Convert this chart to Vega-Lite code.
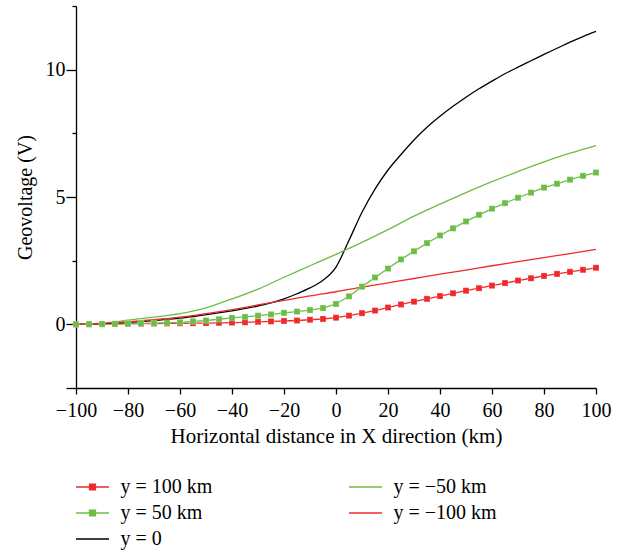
{
  "$schema": "https://vega.github.io/schema/vega-lite/v6.json",
  "width": 520,
  "height": 382,
  "autosize": {"type": "none"},
  "padding": {"left": 76, "top": 6, "right": 26, "bottom": 164},
  "background": "white",
  "config": {
    "font": "Liberation Serif",
    "view": {"stroke": null},
    "axis": {"grid": false, "domainColor": "black", "tickColor": "black", "labelColor": "black", "titleColor": "black", "labelFontSize": 20, "titleFontSize": 20, "titleFontWeight": "normal", "domainWidth": 1.3, "tickWidth": 1.3},
    "legend": {"labelFontSize": 20, "labelColor": "black"}
  },
  "data": {"values": [
    {"s": "y = 100 km", "x": -100, "v": 0.0}, {"s": "y = 100 km", "x": -95, "v": 0.005}, {"s": "y = 100 km", "x": -90, "v": 0.01}, {"s": "y = 100 km", "x": -85, "v": 0.015}, {"s": "y = 100 km", "x": -80, "v": 0.02}, {"s": "y = 100 km", "x": -75, "v": 0.025}, {"s": "y = 100 km", "x": -70, "v": 0.03}, {"s": "y = 100 km", "x": -65, "v": 0.035}, {"s": "y = 100 km", "x": -60, "v": 0.04}, {"s": "y = 100 km", "x": -55, "v": 0.045}, {"s": "y = 100 km", "x": -50, "v": 0.05}, {"s": "y = 100 km", "x": -45, "v": 0.06}, {"s": "y = 100 km", "x": -40, "v": 0.07}, {"s": "y = 100 km", "x": -35, "v": 0.08}, {"s": "y = 100 km", "x": -30, "v": 0.1}, {"s": "y = 100 km", "x": -25, "v": 0.115}, {"s": "y = 100 km", "x": -20, "v": 0.13}, {"s": "y = 100 km", "x": -15, "v": 0.15}, {"s": "y = 100 km", "x": -10, "v": 0.18}, {"s": "y = 100 km", "x": -5, "v": 0.21}, {"s": "y = 100 km", "x": 0, "v": 0.26}, {"s": "y = 100 km", "x": 5, "v": 0.34}, {"s": "y = 100 km", "x": 10, "v": 0.44}, {"s": "y = 100 km", "x": 15, "v": 0.54}, {"s": "y = 100 km", "x": 20, "v": 0.66}, {"s": "y = 100 km", "x": 25, "v": 0.78}, {"s": "y = 100 km", "x": 30, "v": 0.89}, {"s": "y = 100 km", "x": 35, "v": 1.0}, {"s": "y = 100 km", "x": 40, "v": 1.11}, {"s": "y = 100 km", "x": 45, "v": 1.22}, {"s": "y = 100 km", "x": 50, "v": 1.32}, {"s": "y = 100 km", "x": 55, "v": 1.42}, {"s": "y = 100 km", "x": 60, "v": 1.52}, {"s": "y = 100 km", "x": 65, "v": 1.62}, {"s": "y = 100 km", "x": 70, "v": 1.72}, {"s": "y = 100 km", "x": 75, "v": 1.81}, {"s": "y = 100 km", "x": 80, "v": 1.9}, {"s": "y = 100 km", "x": 85, "v": 1.98}, {"s": "y = 100 km", "x": 90, "v": 2.06}, {"s": "y = 100 km", "x": 95, "v": 2.14}, {"s": "y = 100 km", "x": 100, "v": 2.22},
    {"s": "y = 50 km", "x": -100, "v": 0.0}, {"s": "y = 50 km", "x": -95, "v": 0.005}, {"s": "y = 50 km", "x": -90, "v": 0.01}, {"s": "y = 50 km", "x": -85, "v": 0.02}, {"s": "y = 50 km", "x": -80, "v": 0.03}, {"s": "y = 50 km", "x": -75, "v": 0.04}, {"s": "y = 50 km", "x": -70, "v": 0.05}, {"s": "y = 50 km", "x": -65, "v": 0.065}, {"s": "y = 50 km", "x": -60, "v": 0.08}, {"s": "y = 50 km", "x": -55, "v": 0.12}, {"s": "y = 50 km", "x": -50, "v": 0.15}, {"s": "y = 50 km", "x": -45, "v": 0.2}, {"s": "y = 50 km", "x": -40, "v": 0.25}, {"s": "y = 50 km", "x": -35, "v": 0.29}, {"s": "y = 50 km", "x": -30, "v": 0.34}, {"s": "y = 50 km", "x": -25, "v": 0.39}, {"s": "y = 50 km", "x": -20, "v": 0.45}, {"s": "y = 50 km", "x": -15, "v": 0.5}, {"s": "y = 50 km", "x": -10, "v": 0.56}, {"s": "y = 50 km", "x": -5, "v": 0.64}, {"s": "y = 50 km", "x": 0, "v": 0.8}, {"s": "y = 50 km", "x": 5, "v": 1.1}, {"s": "y = 50 km", "x": 10, "v": 1.48}, {"s": "y = 50 km", "x": 15, "v": 1.84}, {"s": "y = 50 km", "x": 20, "v": 2.19}, {"s": "y = 50 km", "x": 25, "v": 2.55}, {"s": "y = 50 km", "x": 30, "v": 2.87}, {"s": "y = 50 km", "x": 35, "v": 3.19}, {"s": "y = 50 km", "x": 40, "v": 3.49}, {"s": "y = 50 km", "x": 45, "v": 3.77}, {"s": "y = 50 km", "x": 50, "v": 4.04}, {"s": "y = 50 km", "x": 55, "v": 4.3}, {"s": "y = 50 km", "x": 60, "v": 4.54}, {"s": "y = 50 km", "x": 65, "v": 4.76}, {"s": "y = 50 km", "x": 70, "v": 4.97}, {"s": "y = 50 km", "x": 75, "v": 5.17}, {"s": "y = 50 km", "x": 80, "v": 5.37}, {"s": "y = 50 km", "x": 85, "v": 5.52}, {"s": "y = 50 km", "x": 90, "v": 5.68}, {"s": "y = 50 km", "x": 95, "v": 5.83}, {"s": "y = 50 km", "x": 100, "v": 5.96},
    {"s": "y = 0", "x": -100, "v": 0.0}, {"s": "y = 0", "x": -90, "v": 0.03}, {"s": "y = 0", "x": -80, "v": 0.08}, {"s": "y = 0", "x": -70, "v": 0.15}, {"s": "y = 0", "x": -60, "v": 0.24}, {"s": "y = 0", "x": -50, "v": 0.38}, {"s": "y = 0", "x": -40, "v": 0.53}, {"s": "y = 0", "x": -30, "v": 0.72}, {"s": "y = 0", "x": -25, "v": 0.84}, {"s": "y = 0", "x": -20, "v": 1.0}, {"s": "y = 0", "x": -15, "v": 1.2}, {"s": "y = 0", "x": -10, "v": 1.43}, {"s": "y = 0", "x": -5, "v": 1.73}, {"s": "y = 0", "x": 0, "v": 2.25}, {"s": "y = 0", "x": 5, "v": 3.3}, {"s": "y = 0", "x": 10, "v": 4.4}, {"s": "y = 0", "x": 15, "v": 5.31}, {"s": "y = 0", "x": 20, "v": 6.06}, {"s": "y = 0", "x": 25, "v": 6.67}, {"s": "y = 0", "x": 30, "v": 7.24}, {"s": "y = 0", "x": 35, "v": 7.74}, {"s": "y = 0", "x": 40, "v": 8.17}, {"s": "y = 0", "x": 45, "v": 8.56}, {"s": "y = 0", "x": 50, "v": 8.92}, {"s": "y = 0", "x": 55, "v": 9.25}, {"s": "y = 0", "x": 60, "v": 9.55}, {"s": "y = 0", "x": 65, "v": 9.84}, {"s": "y = 0", "x": 70, "v": 10.1}, {"s": "y = 0", "x": 75, "v": 10.35}, {"s": "y = 0", "x": 80, "v": 10.6}, {"s": "y = 0", "x": 85, "v": 10.84}, {"s": "y = 0", "x": 90, "v": 11.08}, {"s": "y = 0", "x": 95, "v": 11.3}, {"s": "y = 0", "x": 100, "v": 11.5},
    {"s": "y = −50 km", "x": -100, "v": 0.0}, {"s": "y = −50 km", "x": -90, "v": 0.05}, {"s": "y = −50 km", "x": -80, "v": 0.16}, {"s": "y = −50 km", "x": -70, "v": 0.28}, {"s": "y = −50 km", "x": -60, "v": 0.42}, {"s": "y = −50 km", "x": -50, "v": 0.65}, {"s": "y = −50 km", "x": -40, "v": 1.0}, {"s": "y = −50 km", "x": -30, "v": 1.38}, {"s": "y = −50 km", "x": -20, "v": 1.85}, {"s": "y = −50 km", "x": -10, "v": 2.3}, {"s": "y = −50 km", "x": 0, "v": 2.75}, {"s": "y = −50 km", "x": 10, "v": 3.22}, {"s": "y = −50 km", "x": 20, "v": 3.72}, {"s": "y = −50 km", "x": 30, "v": 4.25}, {"s": "y = −50 km", "x": 40, "v": 4.72}, {"s": "y = −50 km", "x": 50, "v": 5.17}, {"s": "y = −50 km", "x": 60, "v": 5.6}, {"s": "y = −50 km", "x": 70, "v": 6.0}, {"s": "y = −50 km", "x": 80, "v": 6.38}, {"s": "y = −50 km", "x": 90, "v": 6.72}, {"s": "y = −50 km", "x": 100, "v": 7.02},
    {"s": "y = −100 km", "x": -100, "v": 0.0}, {"s": "y = −100 km", "x": -90, "v": 0.04}, {"s": "y = −100 km", "x": -80, "v": 0.1}, {"s": "y = −100 km", "x": -70, "v": 0.18}, {"s": "y = −100 km", "x": -60, "v": 0.28}, {"s": "y = −100 km", "x": -50, "v": 0.42}, {"s": "y = −100 km", "x": -40, "v": 0.58}, {"s": "y = −100 km", "x": -30, "v": 0.76}, {"s": "y = −100 km", "x": -20, "v": 0.94}, {"s": "y = −100 km", "x": -10, "v": 1.12}, {"s": "y = −100 km", "x": 0, "v": 1.28}, {"s": "y = −100 km", "x": 10, "v": 1.46}, {"s": "y = −100 km", "x": 20, "v": 1.63}, {"s": "y = −100 km", "x": 30, "v": 1.8}, {"s": "y = −100 km", "x": 40, "v": 1.97}, {"s": "y = −100 km", "x": 50, "v": 2.13}, {"s": "y = −100 km", "x": 60, "v": 2.3}, {"s": "y = −100 km", "x": 70, "v": 2.46}, {"s": "y = −100 km", "x": 80, "v": 2.62}, {"s": "y = −100 km", "x": 90, "v": 2.78}, {"s": "y = −100 km", "x": 100, "v": 2.94}
  ]},
  "encoding": {
    "x": {"field": "x", "type": "quantitative", "scale": {"domain": [-100, 100], "nice": false, "zero": false},
      "axis": {"title": "Horizontal distance in X direction (km)", "values": [-100, -80, -60, -40, -20, 0, 20, 40, 60, 80, 100], "tickSize": 6, "labelPadding": 6, "titlePadding": 5, "titleFontSize": 21, "labelFlush": false}},
    "y": {"field": "v", "type": "quantitative", "scale": {"domain": [-2.5, 12.5], "nice": false, "zero": false},
      "axis": {"title": "Geovoltage (V)", "values": [-2.5, 0, 2.5, 5, 7.5, 10, 12.5], "labelExpr": "datum.value == 0 || datum.value == 5 || datum.value == 10 ? datum.label : ''", "tickSize": {"condition": {"test": "datum.value == 0 || datum.value == 5 || datum.value == 10 || datum.value == -2.5", "value": 10}, "value": 4}, "labelPadding": 1, "titlePadding": 10}},
    "color": {"field": "s", "type": "nominal", "scale": {"domain": ["y = 100 km", "y = 50 km", "y = 0", "y = −50 km", "y = −100 km"], "range": ["#ee2a2a", "#6cbd45", "#000000", "#6cbd45", "#ee2a2a"]},
      "legend": {"title": null, "orient": "none", "legendX": 4.5, "legendY": 469, "columns": 2, "columnPadding": 133, "rowPadding": 4, "padding": 0, "symbolSize": 484, "labelOffset": 16,
        "encode": {"symbols": {"update": {
          "shape": {"signal": "indexof(['y = 100 km','y = 50 km'], datum.value) >= 0 ? 'M-1.5,0H1.5M-0.27,-0.27H0.27V0.27H-0.27Z' : 'M-1.5,0H1.5'"},
          "fill": {"signal": "indexof(['y = 100 km','y = 50 km'], datum.value) >= 0 ? scale('color', datum.value) : 'transparent'"},
          "stroke": {"signal": "scale('color', datum.value)"},
          "strokeWidth": {"value": 1.3},
          "opacity": {"value": 1}
        }}}}}
  },
  "layer": [
    {"transform": [{"filter": "datum.s == 'y = 100 km' || datum.s == 'y = 50 km'"}],
     "mark": {"type": "line", "strokeWidth": 1.3}},
    {"transform": [{"filter": "datum.s != 'y = 100 km' && datum.s != 'y = 50 km'"}],
     "mark": {"type": "line", "strokeWidth": 1.3, "interpolate": "monotone"}},
    {"transform": [{"filter": "datum.s == 'y = 100 km' || datum.s == 'y = 50 km'"}],
     "mark": {"type": "point", "shape": "square", "filled": true, "size": 36, "opacity": 1, "stroke": "white", "strokeWidth": 0.4, "strokeOpacity": 0.6}}
  ]
}
